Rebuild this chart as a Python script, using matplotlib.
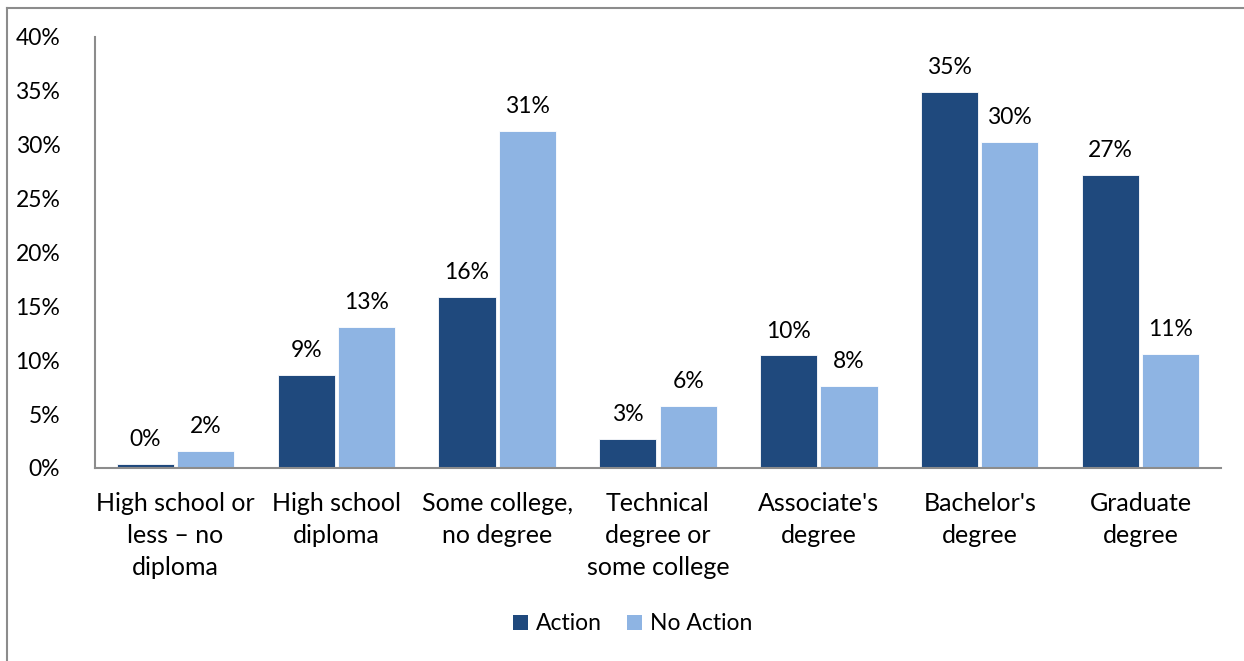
import matplotlib
matplotlib.use("Agg")
import matplotlib.pyplot as plt
from matplotlib.lines import Line2D
from matplotlib.patches import Patch
import numpy as np

plt.rcParams['font.family'] = ['Lato', 'DejaVu Sans']

categories = [
    "High school or\nless \u2013 no\ndiploma",
    "High school\ndiploma",
    "Some college,\nno degree",
    "Technical\ndegree or\nsome college",
    "Associate's\ndegree",
    "Bachelor's\ndegree",
    "Graduate\ndegree",
]
action = [0.4, 8.6, 15.9, 2.7, 10.45, 34.9, 27.2]
no_action = [1.6, 13.1, 31.3, 5.75, 7.6, 30.3, 10.55]
series_names = ["Action", "No Action"]
colors = ["#1F497D", "#8EB4E3"]

W, H = 1244, 661
fig = plt.figure(figsize=(W / 100, H / 100), dpi=100)
ax = fig.add_axes([95 / W, (H - 468) / H, (1221 - 95) / W, (468 - 37) / H])

x = np.arange(len(categories))
width = 0.355
gap = 0.02
for vals, offset, color in [(action, -(width + gap) / 2, colors[0]),
                            (no_action, (width + gap) / 2, colors[1])]:
    bars = ax.bar(x + offset, vals, width, color=color, edgecolor="white", linewidth=0.6)
    for b, v in zip(bars, vals):
        ax.annotate(f"{v:.0f}%", (b.get_x() + b.get_width() / 2, v),
                    xytext=(0, 10), textcoords="offset points",
                    ha="center", va="bottom", fontsize=16.5)

ax.set_xlim(-0.5, len(categories) - 0.5)
ax.set_ylim(0, 40)
ax.set_yticks(range(0, 41, 5))
ax.set_yticklabels([f"{t}%" for t in range(0, 41, 5)], fontsize=16.5)
ax.set_xticks(x)
ax.set_xticklabels(categories, fontsize=18, linespacing=1.48)
ax.tick_params(axis="both", length=0)
ax.tick_params(axis="y", pad=25)
ax.tick_params(axis="x", pad=17)

for side in ["top", "right"]:
    ax.spines[side].set_visible(False)
for side in ["left", "bottom"]:
    ax.spines[side].set_color("#8C8C8C")
    ax.spines[side].set_linewidth(1.5)

handles = [Patch(facecolor=c, edgecolor="none") for c in colors]
fig.legend(handles, series_names, loc="center", bbox_to_anchor=(633 / W, 1 - 624 / H),
           ncol=2, frameon=False, fontsize=16.5, handlelength=0.65, handleheight=0.65,
           handletextpad=0.35, columnspacing=1.1)

# outer chart border (left and top edges)
fig.add_artist(Line2D([7.5 / W, 7.5 / W], [0, 1 - 7.5 / H], color="#8C8C8C",
                      linewidth=1.5, transform=fig.transFigure))
fig.add_artist(Line2D([7.5 / W, 1], [1 - 7.5 / H, 1 - 7.5 / H], color="#8C8C8C",
                      linewidth=1.5, transform=fig.transFigure))

fig.savefig("out.png", dpi=100)
